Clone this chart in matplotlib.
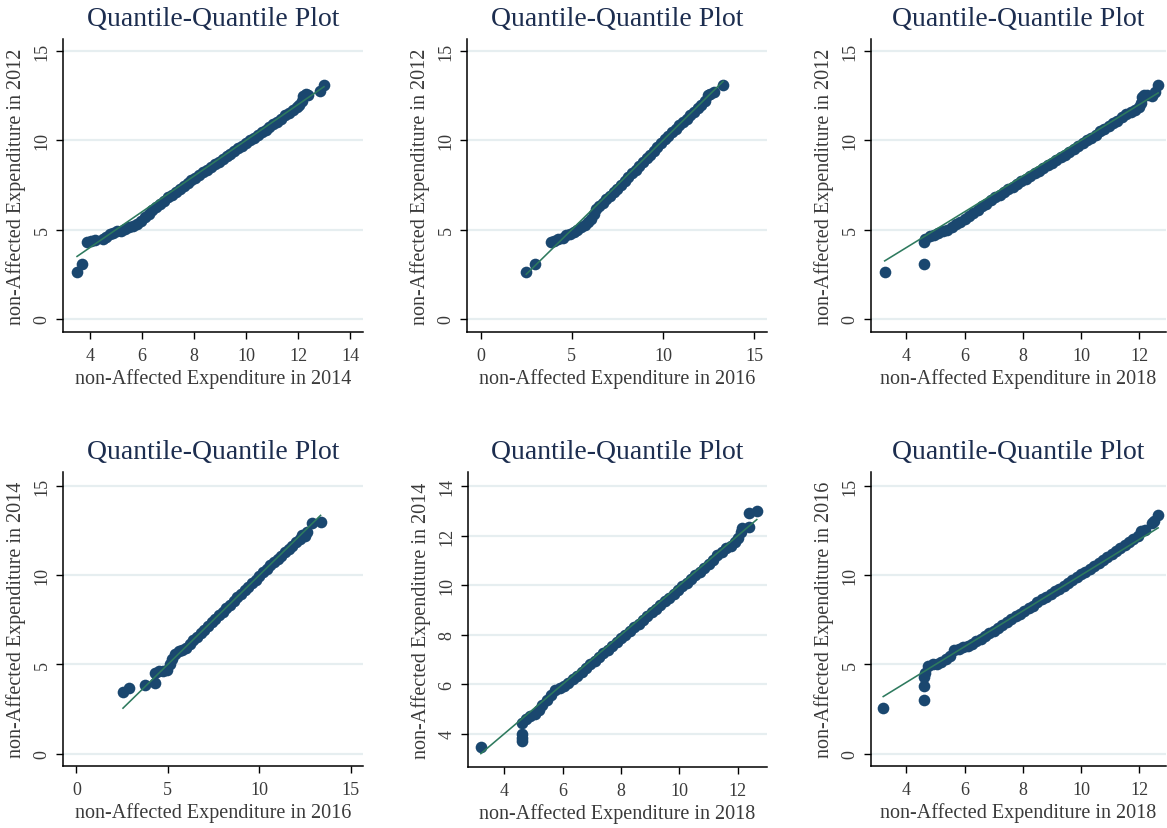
import matplotlib
matplotlib.use("Agg")
import matplotlib.pyplot as plt

W, H = 1167, 829

TITLE = "Quantile-Quantile Plot"

# Panel 1: 2014 (x) vs 2012 (y)
p1_x = [3.5, 3.7, 3.9, 4.05, 4.2, 4.5, 4.6, 4.75, 4.9, 5.05, 5.2, 5.35, 5.5, 5.65, 5.8, 5.95, 6.1,
        6.25, 6.4, 6.55, 6.7, 6.85, 7.0, 7.15, 7.3, 7.45, 7.6, 7.75, 7.9, 8.05, 8.2, 8.35, 8.5,
        8.65, 8.8, 8.95, 9.1, 9.25, 9.4, 9.55, 9.7, 9.85, 10.0, 10.15, 10.3, 10.45, 10.6, 10.75,
        10.9, 11.05, 11.2, 11.35, 11.5, 11.65, 11.8, 11.95, 12.05, 12.15, 12.2, 12.3, 12.4,
        12.85, 13.0]
p1_y = [2.65, 3.1, 4.3, 4.35, 4.4, 4.5, 4.6, 4.75, 4.8, 4.9, 4.95, 5.05, 5.15, 5.2, 5.3, 5.5, 5.7,
        5.9, 6.1, 6.25, 6.45, 6.6, 6.8, 6.95, 7.1, 7.25, 7.45, 7.6, 7.75, 7.9, 8.05, 8.2, 8.35,
        8.5, 8.65, 8.8, 8.95, 9.1, 9.25, 9.4, 9.55, 9.7, 9.85, 10.0, 10.15, 10.3, 10.45, 10.6,
        10.75, 10.9, 11.05, 11.2, 11.4, 11.55, 11.7, 11.85, 12.0, 12.2, 12.5, 12.6, 12.55,
        12.75, 13.1]

# Panel 2: 2016 (x) vs 2012 (y)
p2_x = [2.5, 3.0, 3.85, 4.05, 4.25, 4.5, 4.7, 4.9, 5.1, 5.3, 5.5, 5.7, 5.9, 6.05, 6.2, 6.35, 6.5,
        6.7, 6.9, 7.1, 7.3, 7.5, 7.7, 7.9, 8.1, 8.3, 8.5, 8.7, 8.9, 9.1, 9.3, 9.5, 9.7, 9.9, 10.1,
        10.3, 10.5, 10.7, 10.9, 11.1, 11.3, 11.5, 11.7, 11.9, 12.1, 12.3, 12.45, 12.6, 12.8, 13.3]
p2_y = [2.65, 3.1, 4.3, 4.35, 4.45, 4.55, 4.7, 4.75, 4.85, 5.0, 5.15, 5.25, 5.4, 5.6, 5.9, 6.15, 6.3,
        6.5, 6.7, 6.9, 7.1, 7.3, 7.5, 7.7, 7.95, 8.15, 8.35, 8.55, 8.8, 9.0, 9.2, 9.4, 9.6, 9.85, 10.05,
        10.25, 10.45, 10.65, 10.85, 11.0, 11.2, 11.4, 11.6, 11.8, 12.0, 12.2, 12.55, 12.6, 12.7, 13.1]

# Panel 3: 2018 (x) vs 2012 (y)
p3_x = [3.25, 4.6, 4.6, 4.65, 4.8, 4.95, 5.1, 5.25, 5.4, 5.55, 5.7, 5.85, 6.0, 6.15, 6.3, 6.45, 6.6,
        6.75, 6.9, 7.05, 7.2, 7.35, 7.5, 7.65, 7.8, 7.95, 8.1, 8.25, 8.4, 8.55, 8.7, 8.85, 9.0,
        9.15, 9.3, 9.45, 9.6, 9.75, 9.9, 10.05, 10.2, 10.35, 10.5, 10.65, 10.8, 10.95, 11.1,
        11.25, 11.4, 11.55, 11.7, 11.85, 12.0, 12.05, 12.1, 12.15, 12.25, 12.45, 12.55, 12.65]
p3_y = [2.65, 3.1, 4.3, 4.45, 4.65, 4.7, 4.8, 4.9, 5.0, 5.15, 5.3, 5.45, 5.6, 5.75, 5.95, 6.1, 6.3,
        6.45, 6.65, 6.8, 6.95, 7.1, 7.25, 7.4, 7.55, 7.7, 7.85, 8.0, 8.15, 8.3, 8.45, 8.6, 8.75,
        8.9, 9.05, 9.2, 9.35, 9.5, 9.7, 9.85, 10.0, 10.15, 10.3, 10.5, 10.65, 10.8, 10.95,
        11.1, 11.3, 11.45, 11.6, 11.7, 11.85, 12.1, 12.4, 12.55, 12.55, 12.5, 12.7, 13.1]

# Panel 4: 2016 (x) vs 2014 (y)
p4_x = [2.55, 2.9, 3.75, 4.3, 4.3, 4.5, 4.75, 4.95, 5.1, 5.25, 5.4, 5.6, 5.8, 6.0, 6.2, 6.4, 6.6,
        6.8, 7.0, 7.2, 7.4, 7.6, 7.8, 8.0, 8.2, 8.4, 8.6, 8.8, 9.0, 9.2, 9.4, 9.6, 9.8, 10.0, 10.2,
        10.4, 10.6, 10.8, 11.0, 11.2, 11.4, 11.6, 11.8, 12.0, 12.2, 12.35, 12.5, 12.6, 12.9, 13.35]
p4_y = [3.45, 3.7, 3.85, 3.95, 4.5, 4.65, 4.65, 4.7, 5.0, 5.3, 5.6, 5.75, 5.8, 5.9, 6.15, 6.35, 6.55,
        6.75, 6.95, 7.15, 7.35, 7.55, 7.75, 7.95, 8.15, 8.35, 8.55, 8.75, 8.95, 9.15, 9.35, 9.55, 9.75,
        9.95, 10.15, 10.35, 10.55, 10.75, 10.9, 11.1, 11.3, 11.45, 11.65, 11.85, 12.05, 12.25, 12.2,
        12.4, 12.95, 13.0]

# Panel 5: 2018 (x) vs 2014 (y)
p5_x = [3.2, 4.6, 4.6, 4.6, 4.6, 4.75, 4.9, 5.05, 5.2, 5.3, 5.45, 5.6, 5.75, 5.9, 6.05, 6.2, 6.35,
        6.5, 6.65, 6.8, 6.95, 7.1, 7.25, 7.4, 7.55, 7.7, 7.85, 8.0, 8.15, 8.3, 8.45, 8.6, 8.75, 8.9,
        9.05, 9.2, 9.35, 9.5, 9.65, 9.8, 9.95, 10.1, 10.25, 10.4, 10.55, 10.7, 10.85, 11.0, 11.15,
        11.3, 11.45, 11.6, 11.75, 11.9, 12.0, 12.1, 12.15, 12.4, 12.4, 12.65]
p5_y = [3.45, 3.7, 3.85, 4.0, 4.45, 4.6, 4.7, 4.8, 4.95, 5.15, 5.35, 5.55, 5.75, 5.85, 5.95, 6.05, 6.2,
        6.35, 6.5, 6.65, 6.8, 6.95, 7.1, 7.25, 7.4, 7.55, 7.7, 7.85, 8.0, 8.15, 8.3, 8.45, 8.6, 8.75,
        8.9, 9.05, 9.2, 9.35, 9.5, 9.65, 9.8, 9.95, 10.1, 10.25, 10.4, 10.55, 10.7, 10.85, 11.0,
        11.2, 11.35, 11.5, 11.6, 11.75, 11.9, 12.15, 12.3, 12.35, 12.9, 13.0]

# Panel 6: 2018 (x) vs 2016 (y)
p6_x = [3.2, 4.6, 4.6, 4.6, 4.65, 4.75, 4.9, 5.05, 5.2, 5.35, 5.5, 5.65, 5.8, 5.95, 6.1, 6.25, 6.4,
        6.55, 6.7, 6.85, 7.0, 7.15, 7.3, 7.45, 7.6, 7.75, 7.9, 8.05, 8.2, 8.35, 8.5, 8.65, 8.8, 8.95,
        9.1, 9.25, 9.4, 9.55, 9.7, 9.85, 10.0, 10.15, 10.3, 10.45, 10.6, 10.75, 10.9, 11.05, 11.2,
        11.35, 11.5, 11.65, 11.8, 11.95, 12.05, 12.2, 12.45, 12.5, 12.65]
p6_y = [2.55, 3.0, 3.8, 4.3, 4.5, 4.9, 5.0, 5.0, 5.15, 5.3, 5.45, 5.8, 5.85, 5.95, 6.05, 6.15, 6.3,
        6.45, 6.6, 6.75, 6.9, 7.05, 7.2, 7.4, 7.55, 7.7, 7.85, 8.0, 8.15, 8.3, 8.5, 8.65, 8.8, 8.95,
        9.1, 9.25, 9.4, 9.55, 9.75, 9.9, 10.05, 10.2, 10.35, 10.5, 10.7, 10.85, 11.0, 11.2, 11.35,
        11.5, 11.7, 11.85, 12.0, 12.2, 12.5, 12.55, 12.95, 13.05, 13.35]

xlabels = ["non-Affected Expenditure in 2014", "non-Affected Expenditure in 2016",
           "non-Affected Expenditure in 2018", "non-Affected Expenditure in 2016",
           "non-Affected Expenditure in 2018", "non-Affected Expenditure in 2018"]
ylabels = ["non-Affected Expenditure in 2012", "non-Affected Expenditure in 2012",
           "non-Affected Expenditure in 2012", "non-Affected Expenditure in 2014",
           "non-Affected Expenditure in 2014", "non-Affected Expenditure in 2016"]
xticks = [[4, 6, 8, 10, 12, 14], [0, 5, 10, 15], [4, 6, 8, 10, 12],
          [0, 5, 10, 15], [4, 6, 8, 10, 12], [4, 6, 8, 10, 12]]
yticks = [[0, 5, 10, 15], [0, 5, 10, 15], [0, 5, 10, 15],
          [0, 5, 10, 15], [4, 6, 8, 10, 12, 14], [0, 5, 10, 15]]
xlims = [(2.96, 14.5), (-0.75, 15.71), (2.78, 12.92), (-0.73, 15.67), (2.76, 13.0), (2.78, 12.92)]
ylims = [(-0.73, 15.67), (-0.73, 15.67), (-0.73, 15.67), (-0.69, 15.78), (2.66, 14.57), (-0.69, 15.78)]

data = [(p1_x, p1_y), (p2_x, p2_y), (p3_x, p3_y), (p4_x, p4_y), (p5_x, p5_y), (p6_x, p6_y)]

# axes boxes in pixels: left, top, right, bottom
boxes = [(63, 40, 363, 333), (467, 40, 767, 333), (871, 40, 1166, 333),
         (63, 473, 363, 767), (468, 473, 767, 768), (871, 473, 1166, 767)]

plt.rcParams['font.family'] = ['Liberation Serif', 'DejaVu Serif']

MARK = "#1a476f"
LINE = "#2e7a5e"
GRID = "#e6eef0"
TXT = "#3a3a3a"
TITLEC = "#1c2d4f"

fig = plt.figure(figsize=(W / 100, H / 100), dpi=100)
fig.patch.set_facecolor("white")

for i, (box, (xs, ys)) in enumerate(zip(boxes, data)):
    l, t, r, b = box
    ax = fig.add_axes([l / W, 1 - b / H, (r - l) / W, (b - t) / H])
    ax.set_xlim(*xlims[i])
    ax.set_ylim(*ylims[i])
    for s in ("top", "right"):
        ax.spines[s].set_visible(False)
    for s in ("left", "bottom"):
        ax.spines[s].set_linewidth(1.1)
        ax.spines[s].set_color("black")
    ax.set_xticks(xticks[i])
    ax.set_yticks(yticks[i])
    ax.set_yticklabels([str(v) for v in yticks[i]], rotation=90, va="center", ha="right")
    ax.tick_params(axis="both", direction="out", length=5, width=1.0, color="black",
                   labelsize=13, labelcolor=TXT)
    ax.tick_params(axis="x", pad=6)
    ax.tick_params(axis="y", pad=4)
    ax.yaxis.grid(True, color=GRID, linewidth=1.6)
    ax.set_axisbelow(True)
    ax.plot(xs, ys, linestyle="none", marker="o", markersize=8.4, markeredgewidth=0,
            color=MARK, zorder=3)
    lo, hi = min(xs), max(xs)
    ax.plot([lo, hi], [lo, hi], color=LINE, linewidth=1.15, zorder=4)
    ax.set_xlabel(xlabels[i], fontsize=14.5, color=TXT, va="center")
    ax.xaxis.set_label_coords(0.5, -46 / (b - t))
    ax.set_ylabel(ylabels[i], fontsize=14.5, color=TXT, va="center")
    ax.yaxis.set_label_coords(-47 / (r - l), 0.5)
    fig.text(((l + r) / 2) / W, 1 - (t - 20) / H, TITLE, ha="center", va="center",
             fontsize=20, color=TITLEC)

fig.savefig("out.png", dpi=100, facecolor="white")
